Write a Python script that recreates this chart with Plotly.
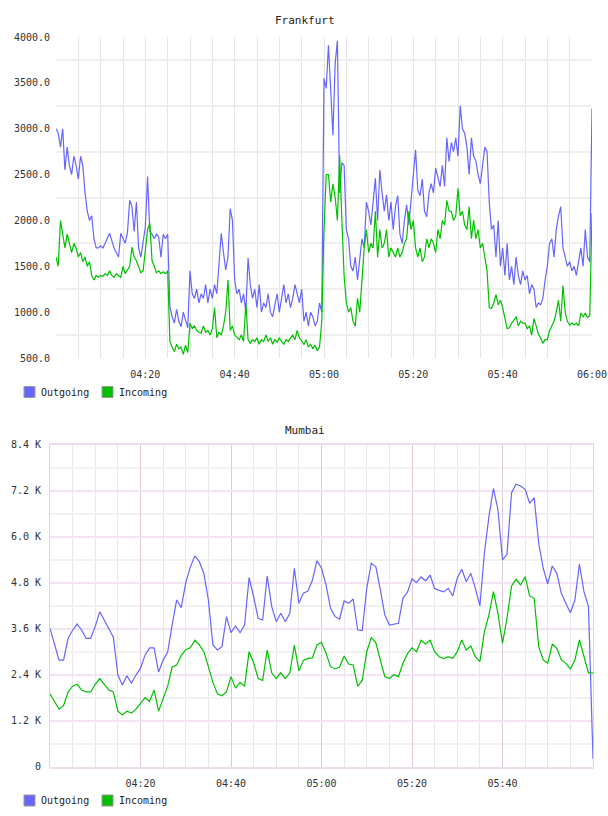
import plotly.graph_objects as go
import pandas as pd

FONT = "DejaVu Sans Mono"
W, H = 608, 816

# ---------------- data ----------------
fra_out = [
    3000, 2950, 2800, 3000, 2550, 2800, 2600, 2500, 2700, 2600,
    2450, 2700, 2600, 2300, 2100, 2000, 2050, 1800, 1700, 1700,
    1720, 1700, 1750, 1800, 1860, 1780, 1700, 1650, 1600, 1860,
    1800, 1750, 1870, 2220, 2150, 1880, 2200, 1700, 1600, 1750,
    1930, 2480, 1880, 1850, 1800, 1850, 1820, 1600, 1850, 1800,
    1850, 1060, 950, 880, 1030, 900, 840, 1000, 900, 830,
    1450, 1200, 1150, 1250, 1100, 1200, 1150, 1300, 1100, 1250,
    1150, 1300, 1200, 1500, 1860, 1650, 1460, 1600, 2130, 2000,
    1350, 1200, 1250, 1100, 1200, 1000, 1590, 1300, 1150, 1250,
    1050, 1300, 1000, 1100, 1050, 1200, 1000, 950, 1100, 1200,
    1000, 1150, 1300, 1100, 1200, 1050, 1150, 1300, 1200, 1100,
    1250, 900, 1000, 850, 1000, 950, 850, 900, 1100, 1000,
    3550, 3440, 3910, 3400, 2930, 3710, 3960, 2300, 2630, 2600,
    1900, 1800, 1500, 1450, 1600, 1350, 1600, 1800, 1700, 2200,
    2100, 1950, 2200, 2460, 2000, 2550, 2300, 2100, 2280, 2000,
    2200, 1900, 2150, 2270, 1850, 1750, 2000, 2170, 1950, 2200,
    2500, 2770, 2330, 2270, 2450, 2100, 2040, 2300, 2400, 2300,
    2570, 2480, 2370, 2600, 2370, 2900, 2640, 2850, 2750, 2900,
    2700, 3250, 3000, 2950, 2800, 2500, 2900, 2700, 2650, 2500,
    2400, 2600, 2800, 2750, 2200, 1900, 1950, 1600, 2000, 1500,
    1700, 1400, 1750, 1350, 1500, 1300, 1600, 1400, 1300, 1450,
    1350, 1400, 1200, 1300, 1250, 1050, 1100, 1080, 1150, 1350,
    1500, 1750, 1800, 1600, 1900, 2050, 2150, 1700, 1600, 1500,
    1550, 1450, 1500, 1400, 1550, 1700, 1500, 1900, 1600, 1550,
    3220,
]
fra_in = [
    1600, 1500, 2000, 1850, 1700, 1850, 1750, 1650, 1750, 1700,
    1600, 1650, 1550, 1600, 1500, 1550, 1400, 1350, 1400, 1380,
    1400, 1390, 1420, 1400, 1450, 1400, 1380, 1420, 1400, 1380,
    1500, 1420, 1460, 1500, 1710, 1600, 1560, 1500, 1430, 1450,
    1710, 1900, 1970, 1560, 1500, 1430, 1450, 1420, 1440, 1420,
    1450, 680, 620, 570, 650, 600, 620, 540, 640, 560,
    880, 820, 850, 800, 780, 770, 850, 780, 800, 750,
    820, 1050, 720, 780, 750, 850, 1000, 1350, 800, 850,
    750, 720, 700, 750, 680, 1100, 700, 660, 700, 680,
    720, 650, 700, 680, 750, 680, 720, 650, 700, 670,
    720, 680, 650, 700, 680, 720, 750, 700, 800, 720,
    680, 650, 700, 620, 650, 600, 640, 580, 620, 900,
    1900, 2500, 2500, 2200, 2400, 2250, 2000, 2710, 2000, 1400,
    1100, 1000, 1050, 900, 850, 1150, 1000, 1400, 1700, 1900,
    1650, 1750, 1700, 2100, 1600, 1900, 1700, 1750, 1900, 1600,
    1700, 1650, 1600, 1700, 1600, 1650, 1750, 1800, 2100, 1900,
    2000, 1700, 1600, 1700, 1550, 1600, 1800, 1700, 1800, 1750,
    1650, 1900, 1800, 2000, 1950, 2220, 2100, 2100, 2000, 2050,
    2350, 2050, 2100, 1950, 1900, 2150, 1800, 2000, 1800, 1900,
    1700, 1750, 1600, 1450, 1050, 1040, 1100, 1190, 1080, 1130,
    1050, 950, 820, 830, 880, 910, 950, 850, 900, 880,
    880, 820, 850, 750, 930, 850, 760, 720, 660, 700,
    700, 800, 850, 900, 1000, 1130, 900, 1290, 1000, 900,
    860, 880, 860, 880, 850, 990, 950, 990, 940, 960,
    2080,
]
mum_out = [
    3610, 3170, 2780, 2780, 3350, 3560, 3720, 3560, 3350, 3350,
    3660, 4040, 3830, 3610, 3380, 2390, 2130, 2370, 2180, 2390,
    2570, 2910, 3100, 3100, 2470, 2780, 2990, 3700, 4350, 4150,
    4800, 5200, 5500, 5349, 5045, 4349, 3175, 3044, 3131, 3914,
    3496, 3670, 3496, 3697, 4931, 4435, 3871, 3828, 4975, 4174,
    3783, 4002, 3783, 4002, 5176, 4262, 4524, 4584, 4871, 5375,
    5176, 4741, 4132, 3914, 3853, 4323, 4262, 4375, 3566, 3549,
    4654, 5306, 5219, 4610, 3958, 3697, 3720, 3740, 4400, 4550,
    4900, 4800, 4950, 4850, 5000, 4650, 4600, 4560, 4654, 4454,
    4915, 5150, 4827, 5045, 4654, 4193, 5567, 6523, 7263, 6697,
    5393, 5541, 7149, 7367, 7323, 7237, 6872, 7019, 5828, 5176,
    4767, 5236, 5045, 4524, 4263, 4018, 4349, 5288, 4566, 4174,
    200,
]
mum_in = [
    1900, 1700, 1500, 1600, 1950, 2100, 2150, 2000, 1950, 1950,
    2150, 2300, 2150, 2000, 1950, 1450, 1350, 1450, 1400, 1500,
    1650, 1800, 1700, 2000, 1450, 1750, 2100, 2600, 2650, 2900,
    3050, 3100, 3300, 3175, 3000, 2609, 2200, 1900, 1850, 1950,
    2350, 2050, 2200, 2100, 3000, 2714, 2300, 2250, 3044, 2450,
    2300, 2450, 2300, 2450, 3175, 2500, 2775, 2827, 2840, 3175,
    3245, 2958, 2609, 2550, 2600, 2888, 2679, 2653, 2100, 2250,
    3000, 3366, 3236, 2784, 2350, 2300, 2400, 2350, 2700, 2950,
    3100, 3000, 3300, 3200, 3300, 3000, 2870, 2820, 2870, 2820,
    3000, 3306, 3044, 3149, 2870, 2740, 3522, 3958, 4566, 4002,
    3219, 3872, 4714, 4889, 4741, 4957, 4454, 4393, 3131, 2784,
    2697, 3200, 3088, 2784, 2697, 2550, 2784, 3306, 2870, 2450,
    2450,
]

titles = ["Frankfurt", "Mumbai"]
series_names = ["Outgoing", "Incoming"]
fra_yticks = [500, 1000, 1500, 2000, 2500, 3000, 3500, 4000]
fra_yticktext = ["500.0", "1000.0", "1500.0", "2000.0", "2500.0", "3000.0", "3500.0", "4000.0"]
mum_yticks = [0, 1200, 2400, 3600, 4800, 6000, 7200, 8400]
mum_yticktext = ["0", "1.2 K", "2.4 K", "3.6 K", "4.8 K", "6.0 K", "7.2 K", "8.4 K"]
fra_xlabels = ["04:20", "04:40", "05:00", "05:20", "05:40", "06:00"]
mum_xlabels = ["04:20", "04:40", "05:00", "05:20", "05:40"]

# ---------------- styling ----------------
BLUE = "#6666ff"
GREEN = "#00c000"
TXT = "#333333"
DAY = "2024-01-01 "
T0, T1 = DAY + "04:00", DAY + "06:00"

fra_t = pd.date_range(T0, periods=len(fra_out), freq="30s")
mum_t = pd.date_range(T0, periods=len(mum_out), freq="1min")
five_min = [d for d in pd.date_range(DAY + "04:05", DAY + "05:55", freq="5min")]


def px(x):
    return x / W


def py(y):
    return 1 - y / H


fig = go.Figure()
fig.add_trace(go.Scatter(x=fra_t, y=fra_out, mode="lines", line=dict(color=BLUE, width=1.2),
                         xaxis="x", yaxis="y", name=series_names[0]))
fig.add_trace(go.Scatter(x=fra_t, y=fra_in, mode="lines", line=dict(color=GREEN, width=1.2),
                         xaxis="x", yaxis="y", name=series_names[1]))
fig.add_trace(go.Scatter(x=mum_t, y=mum_out, mode="lines", line=dict(color=BLUE, width=1.2),
                         xaxis="x2", yaxis="y2", name=series_names[0]))
fig.add_trace(go.Scatter(x=mum_t, y=mum_in, mode="lines", line=dict(color=GREEN, width=1.2),
                         xaxis="x2", yaxis="y2", name=series_names[1]))

tickfont = dict(family=FONT, size=10, color=TXT)

fig.update_layout(
    width=W, height=H, autosize=False,
    margin=dict(l=0, r=0, t=0, b=0, autoexpand=False),
    paper_bgcolor="white", plot_bgcolor="white",
    showlegend=False,
    xaxis=dict(
        domain=[px(56), px(592)], range=[T0, T1], automargin=False,
        tickmode="array", tickvals=[DAY + s for s in fra_xlabels], ticktext=fra_xlabels,
        showgrid=True, gridcolor="#e6e6e6", gridwidth=1,
        minor=dict(tickmode="array", tickvals=five_min, showgrid=True, gridcolor="#e6e6e6", gridwidth=1),
        ticks="", showline=False, zeroline=False, tickfont=tickfont, ticklabelstandoff=9,
        anchor="y",
    ),
    yaxis=dict(
        domain=[py(358), py(37)], range=[500, 4000], automargin=False,
        tickmode="array", tickvals=fra_yticks, ticktext=fra_yticktext,
        showgrid=False,
        minor=dict(tickmode="array", tickvals=[v + 250 for v in fra_yticks[:-1]], showgrid=True,
                   gridcolor="#efefef", gridwidth=2),
        ticks="", showline=False, zeroline=False, tickfont=tickfont, ticklabelstandoff=5,
        anchor="x",
    ),
    xaxis2=dict(
        domain=[px(50), px(593)], range=[T0, T1], automargin=False,
        tickmode="array", tickvals=[DAY + s for s in mum_xlabels], ticktext=mum_xlabels,
        showgrid=True, gridcolor="#dccadc", gridwidth=1,
        minor=dict(tickmode="array", tickvals=five_min, showgrid=True, gridcolor="#e8e8e8", gridwidth=1),
        ticks="", showline=True, mirror=True, linecolor="#ecdcec", linewidth=2,
        zeroline=False, tickfont=tickfont, ticklabelstandoff=6,
        anchor="y2",
    ),
    yaxis2=dict(
        domain=[py(766.7), py(444.7)], range=[0, 8400], automargin=False,
        tickmode="array", tickvals=mum_yticks, ticktext=mum_yticktext,
        showgrid=True, gridcolor="#f2e4f2", gridwidth=2,
        minor=dict(tickmode="array", tickvals=[v + 600 for v in mum_yticks[:-1]], showgrid=True,
                   gridcolor="#f1f1f1", gridwidth=2),
        ticks="", showline=True, mirror=True, linecolor="#e4cfe4", linewidth=1,
        zeroline=False, tickfont=tickfont, ticklabelstandoff=6,
        anchor="x2",
    ),
)

# titles
for title, ty in zip(titles, [20, 430]):
    fig.add_annotation(text=title, x=px(305), y=py(ty), xref="paper", yref="paper",
                       xanchor="center", yanchor="middle", showarrow=False,
                       font=dict(family=FONT, size=11, color="#222222"))

# legends (square swatches + labels)
for ly in [392, 800.5]:
    for name, col, sx in zip(series_names, [BLUE, GREEN], [24, 102]):
        fig.add_shape(type="rect", xref="paper", yref="paper",
                      x0=px(sx), x1=px(sx + 11), y0=py(ly + 5.5), y1=py(ly - 5.5),
                      fillcolor=col, line=dict(color="#999999", width=1))
        fig.add_annotation(text=name, x=px(sx + 15), y=py(ly), xref="paper", yref="paper",
                           xanchor="left", yanchor="middle", showarrow=False,
                           font=dict(family=FONT, size=10, color="#222222"))

fig.write_html("out.html")
